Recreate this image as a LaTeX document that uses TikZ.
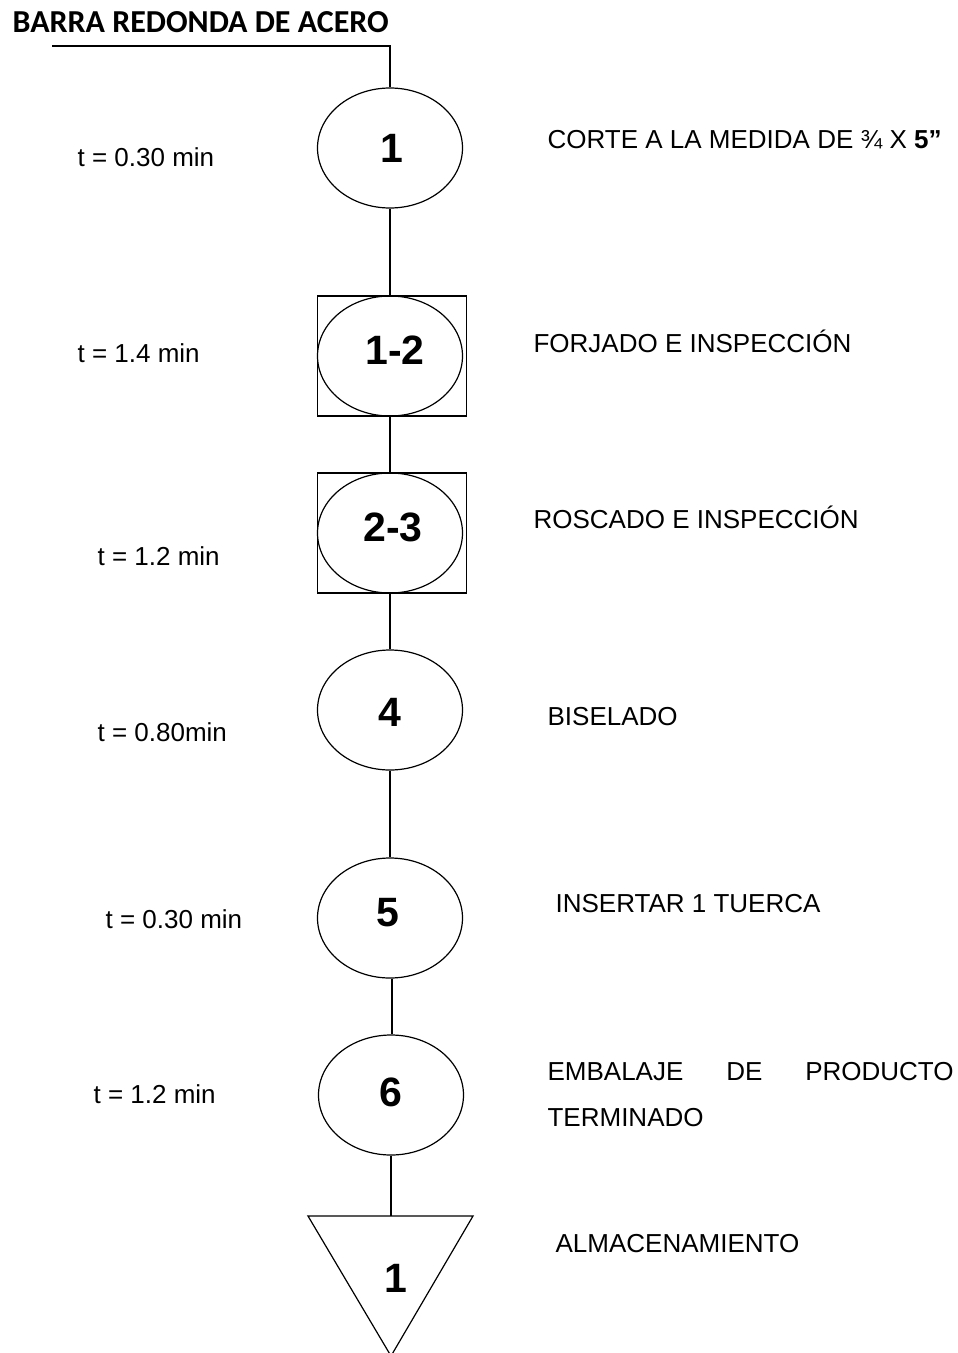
\documentclass[tikz,border=0pt]{standalone}
\usepackage{fontspec}
\setmainfont{Liberation Sans}
\newfontfamily\hdrfont{Carlito}
\usetikzlibrary{shapes.geometric}
\begin{document}
\begin{tikzpicture}[x=1pt,y=-1pt,
  every path/.style={line width=1.2pt},
  op/.style={draw,ellipse,minimum width=145pt,minimum height=120pt,inner sep=0pt},
  num/.style={inner sep=0pt,font=\fontsize{41}{43}\selectfont\bfseries},
  boxc/.style={draw,rectangle,minimum width=149pt,minimum height=120pt,inner sep=0pt},
  tl/.style={anchor=west,inner sep=0pt,font=\fontsize{26}{30}\selectfont},
  dl/.style={anchor=west,inner sep=0pt,font=\fontsize{26}{30}\selectfont}]
\useasboundingbox (0,0) rectangle (958,1353);
% header
\node[anchor=west,inner sep=0pt,font=\hdrfont\bfseries\fontsize{32}{34}\selectfont] (hdr) at (12,22) {BARRA REDONDA DE ACERO};
\coordinate (hstart) at (52,46);
\coordinate (hcorner) at (390,46);
% operations
\node[op] (e1) at (390,148) {};
\node[num] (n1) at (392,148) {1};
\node[boxc] (b12) at (392,356) {};
\node[op] (e12) at (390,356) {};
\node[num] (n12) at (395,350) {1-2};
\node[boxc] (b23) at (392,533) {};
\node[op] (e23) at (390,533) {};
\node[num] (n23) at (393,527) {2-3};
\node[op] (e4) at (390,710) {};
\node[num] (n4) at (390,712) {4};
\node[op] (e5) at (390,918) {};
\node[num] (n5) at (388,913) {5};
\node[op] (e6) at (391,1095) {};
\node[num] (n6) at (391,1092) {6};
% storage triangle
\coordinate (ttop) at (391,1216);
\draw (308,1216) -- (473,1216) -- (391,1356) -- cycle;
\node[num] (nt) at (396,1278) {1};
% connectors
\draw (hstart) -- (hcorner) -- (e1.north);
\draw (e1.south) -- (b12.north -| e1.south);
\draw (b12.south -| e1.south) -- (b23.north -| e1.south);
\draw (b23.south -| e1.south) -- (e4.north);
\draw (e4.south) -- (e5.north);
\draw ([xshift=2pt]e5.south) -- ([xshift=1pt]e6.north);
\draw (e6.south) -- (ttop);
% times
\node[tl] (t1) at (77,157) {t = 0.30 min};
\node[tl] (t2) at (77,353) {t = 1.4 min};
\node[tl] (t3) at (97,556) {t = 1.2 min};
\node[tl] (t4) at (97,732) {t = 0.80min};
\node[tl] (t5) at (105,919) {t = 0.30 min};
\node[tl] (t6) at (93,1094) {t = 1.2 min};
% descriptions
\node[dl] (d1) at (547,140) {CORTE A LA MEDIDA DE ¾ X \textbf{5”}};
\node[dl] (d2) at (533,341) {FORJADO E INSPECCIÓN};
\node[dl] (d3) at (533,517) {ROSCADO E INSPECCIÓN};
\node[dl] (d4) at (547,717) {BISELADO};
\node[dl] (d5) at (555,904) {INSERTAR 1 TUERCA};
\node[anchor=north west,inner sep=0pt,align=left,font=\fontsize{26}{46}\selectfont] (d6) at (547,1062) {\makebox[406pt][s]{EMBALAJE DE PRODUCTO}\\TERMINADO};
\node[dl] (d7) at (555,1244) {ALMACENAMIENTO};
\end{tikzpicture}
\end{document}
